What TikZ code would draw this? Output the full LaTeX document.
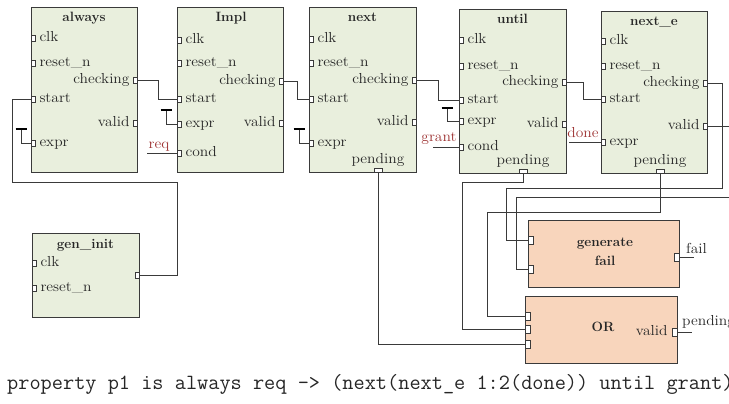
\documentclass[tikz,border=0pt]{standalone}
\usepackage{graphicx}
\usetikzlibrary{calc}
\definecolor{blkfill}{HTML}{E9EFDD}
\definecolor{opfill}{HTML}{F8D5BC}
\definecolor{edgec}{HTML}{3A3A3A}
\definecolor{wirec}{HTML}{3A3A3A}
\definecolor{txtc}{HTML}{262626}
\definecolor{sigc}{HTML}{9E3434}
% port labels are set slightly widened
\newcommand{\plabtext}[1]{\scalebox{1.07}[1]{#1}}
\tikzset{
  blk/.style={draw=edgec, fill=blkfill, line width=0.9pt, inner sep=0pt, anchor=north west},
  opblk/.style={draw=edgec, fill=opfill, line width=0.9pt, inner sep=0pt, anchor=north west},
  port/.style={draw=edgec, fill=white, line width=0.6pt, inner sep=0pt, minimum width=4pt, minimum height=6pt},
  hport/.style={port, minimum width=8pt, minimum height=4pt},
  bport/.style={port, minimum width=5pt, minimum height=8pt},
  plab/.style={font=\fontsize{14.5}{16}\selectfont, text=txtc, inner sep=0pt, text height=10pt, text depth=3pt},
  lp/.style={port, label={[plab, label distance=4pt]right:\plabtext{#1}}},
  rp/.style={port, label={[plab, label distance=3pt]left:\plabtext{#1}}},
  bp/.style={hport, label={[plab, label distance=1pt]above:\plabtext{#1}}},
  ttl/.style={font=\fontsize{13.5}{16}\selectfont\bfseries, text=txtc, inner sep=0pt, anchor=base},
  wire/.style={draw=wirec, line width=0.8pt},
  gndbar/.style={draw=black, line width=1.8pt},
  sig/.style={font=\fontsize{14.5}{16}\selectfont, text=sigc, inner sep=0pt, anchor=base},
}
\begin{document}
\begin{tikzpicture}[x=1pt, y=-1pt]
\useasboundingbox (0,0) rectangle (729,404);

% ---- monitor blocks ----
\node[blk, minimum width=106pt, minimum height=165pt] (always) at (31,7) {};
\node[blk, minimum width=106pt, minimum height=165pt] (impl)   at (177,7) {};
\node[blk, minimum width=107pt, minimum height=165pt] (nxt)    at (309,7) {};
\node[blk, minimum width=107pt, minimum height=164pt] (until)  at (459,9) {};
\node[blk, minimum width=106pt, minimum height=162pt] (nexte)  at (601,11) {};
\node[blk, minimum width=107pt, minimum height=84pt]  (geninit) at (32,233) {};
\node[opblk, minimum width=151pt, minimum height=67pt] (genfail) at (528,220) {};
\node[opblk, minimum width=152pt, minimum height=67pt] (orblk)   at (525,296) {};

% ---- titles ----
\node[ttl] at (84,22)    {always};
\node[ttl] at (231,22)   {Impl};
\node[ttl] at (362.5,22) {next};
\node[ttl] at (512.5,24) {until};
\node[ttl] at (654,26)   {next\_e};
\node[ttl] at (85.5,248) {gen\_init};
\node[ttl, anchor=center, align=center, font=\fontsize{13.5}{19}\selectfont\bfseries] at (605,251.5) {generate\\fail};
\node[ttl, anchor=center] at (603,327) {OR};

% ---- always ports ----
\node[lp=clk]       (al-clk)   at (33,38) {};
\node[lp=reset\_n]  (al-rst)   at (33,63) {};
\node[lp=start]     (al-start) at (33,99) {};
\node[lp=expr]      (al-expr)  at (33,143) {};
\node[rp=checking]  (al-chk)   at (135,80) {};
\node[rp=valid]     (al-val)   at (135,123) {};

% ---- Impl ports ----
\node[lp=clk]       (im-clk)   at (179,40) {};
\node[lp=reset\_n]  (im-rst)   at (179,63) {};
\node[lp=start]     (im-start) at (179,99) {};
\node[lp=expr]      (im-expr)  at (179,124) {};
\node[lp=cond]      (im-cond)  at (179,153) {};
\node[rp=checking]  (im-chk)   at (281,81) {};
\node[rp=valid]     (im-val)   at (281,123) {};

% ---- next ports ----
\node[lp=clk]       (nx-clk)   at (311,39) {};
\node[lp=reset\_n]  (nx-rst)   at (311,63) {};
\node[lp=start]     (nx-start) at (311,99) {};
\node[lp=expr]      (nx-expr)  at (311,143) {};
\node[rp=checking]  (nx-chk)   at (414,80) {};
\node[rp=valid]     (nx-val)   at (414,122) {};
\node[bp=pending]   (nx-pend)  at (378,170) {};

% ---- until ports ----
\node[lp=clk]       (un-clk)   at (461,40) {};
\node[lp=reset\_n]  (un-rst)   at (461,66) {};
\node[lp=start]     (un-start) at (461,100) {};
\node[lp=expr]      (un-expr)  at (461,121) {};
\node[lp=cond]      (un-cond)  at (461,147) {};
\node[rp=checking]  (un-chk)   at (564,82) {};
\node[rp=valid]     (un-val)   at (564,124) {};
\node[bp=pending]   (un-pend)  at (523,171) {};

% ---- next_e ports ----
\node[lp=clk]       (ne-clk)   at (603,41) {};
\node[lp=reset\_n]  (ne-rst)   at (603,66) {};
\node[lp=start]     (ne-start) at (603,99) {};
\node[lp=expr]      (ne-expr)  at (603,142) {};
\node[rp=checking]  (ne-chk)   at (705,83) {};
\node[rp=valid]     (ne-val)   at (705,126) {};
\node[bp=pending]   (ne-pend)  at (660,171) {};

% ---- gen_init ports ----
\node[lp=clk]       (gi-clk)   at (34,263) {};
\node[lp=reset\_n]  (gi-rst)   at (34,288) {};
\node[port]         (gi-out)   at (137,275) {};

% ---- generate fail / OR ports ----
\node[bport] (gf-in1) at (530.5,240) {};
\node[bport] (gf-in2) at (530.5,269) {};
\node[bport] (gf-out) at (676.5,257) {};
\node[bport] (or-in1) at (527.5,316) {};
\node[bport] (or-in2) at (527.5,329) {};
\node[bport] (or-in3) at (527.5,344) {};
\node[bport, label={[plab, label distance=4pt]left:\plabtext{valid}}] (or-out) at (674.5,332) {};

% ---- chain of checking -> start ----
\draw[wire] (gi-out.east) -| (177,182) -- (12,182) |- (al-start.west);
\draw[wire] (al-chk.east) -- ++(21,0) |- (im-start.west);
\draw[wire] (im-chk.east) -- ++(14,0) |- (nx-start.west);
\draw[wire] (nx-chk.east) -- ++(22,0) |- (un-start.west);
\draw[wire] (un-chk.east) -- ++(17,0) |- (ne-start.west);

% ---- feeding the fail generator ----
\draw[wire] (ne-chk.east) -| (722,188) -- (506,188) |- (gf-in1.west);
\draw[wire] (ne-val.east) -| (745,197) -- (516,197) |- (gf-in2.west);

% ---- pending outputs into OR ----
\draw[wire] (ne-pend.south) |- (487,212) |- (or-in1.west);
\draw[wire] (un-pend.south) |- (462,182) |- (or-in2.west);
\draw[wire] (nx-pend.south) |- (or-in3.west);

% ---- outputs ----
\coordinate (failend) at (694,257);
\draw[wire] (gf-out.east) -- (failend);
\node[plab, anchor=base west, text height=, text depth=] at (686,253) {\plabtext{fail}};
\coordinate (pendend) at (692,332);
\draw[wire] (or-out.east) -- (pendend);
\node[plab, anchor=base west, text height=, text depth=] at (682,325) {\plabtext{pending}};

% ---- tied-off expr inputs ----
\coordinate (al-gnd) at (21,129);
\coordinate (im-gnd) at (166,110);
\coordinate (nx-gnd) at (299,129);
\coordinate (un-gnd) at (447,108);
\foreach \p/\g in {al-expr/al-gnd, im-expr/im-gnd, nx-expr/nx-gnd, un-expr/un-gnd}{
  \draw[wire] (\p.west) -| (\g);
  \draw[gndbar] ($(\g)+(-5.5,0)$) -- ($(\g)+(5.5,0)$);
}

% ---- named signals ----
\coordinate (req-in) at (147,153);
\draw[wire] (req-in) -- (im-cond.west);
\node[sig] at (159,149) {\plabtext{req}};
\coordinate (grant-in) at (433,147);
\draw[wire] (grant-in) -- (un-cond.west);
\node[sig] at (439,142) {\plabtext{grant}};
\coordinate (done-in) at (569,142);
\draw[wire] (done-in) -- (ne-expr.west);
\node[sig] at (583,138) {\plabtext{done}};

% ---- property text ----
\node[anchor=base west, inner sep=0pt, font=\fontsize{21.7}{24}\ttfamily, text=txtc] at (7,389)
  {property p1 is always req -> (next(next\_e 1:2(done)) until grant)};
\end{tikzpicture}
\end{document}
